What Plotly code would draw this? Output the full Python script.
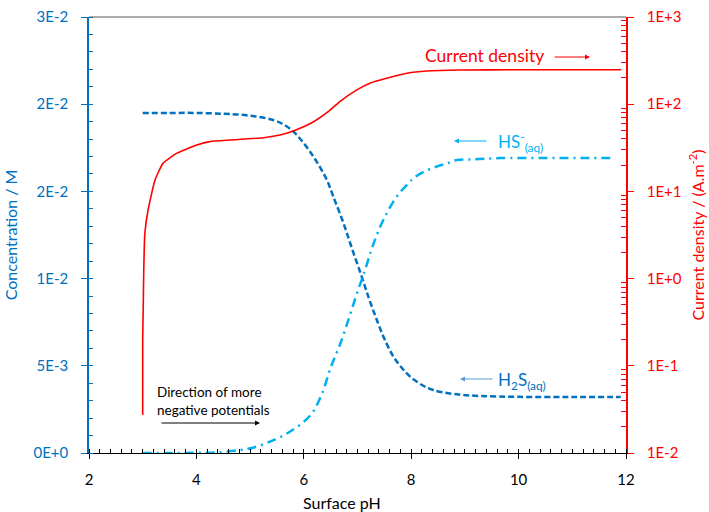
import plotly.graph_objects as go

# ---------------- data ----------------
h2s_ph = [3.0, 3.5, 4.0, 4.5, 4.8, 5.1, 5.4, 5.6, 5.8, 5.95, 6.1, 6.25, 6.43, 6.55, 6.74, 6.9,
          7.08, 7.22, 7.36, 7.5, 7.67, 7.82, 7.98, 8.2, 8.41, 8.8, 9.28, 10.0, 11.0, 11.9]
h2s_conc = [0.01950, 0.01950, 0.01950, 0.01945, 0.01940, 0.01930, 0.01912, 0.01888, 0.01845,
            0.01795, 0.01735, 0.01665, 0.01565, 0.0147, 0.01317, 0.0117, 0.0101, 0.0088,
            0.00763, 0.00655, 0.00552, 0.00490, 0.00438, 0.00390, 0.00361, 0.00338, 0.00327,
            0.00322, 0.00321, 0.00321]

hs_ph = [3.0, 3.5, 4.0, 4.38, 4.81, 5.05, 5.37, 5.74, 6.12, 6.33, 6.5, 6.67, 6.83, 6.98, 7.14,
         7.29, 7.48, 7.73, 7.92, 8.04, 8.25, 8.47, 8.66, 8.85, 9.16, 9.65, 10.5, 11.2, 11.78]
hs_conc = [0.0, 0.0, 0.00001, 0.00003, 0.00017, 0.0003, 0.00065, 0.00122, 0.00215, 0.00333,
           0.0049, 0.00619, 0.00763, 0.00906, 0.01049, 0.01193, 0.01336, 0.0147, 0.01537,
           0.01575, 0.01615, 0.01642, 0.0166, 0.0168, 0.01684, 0.01691, 0.01692, 0.01692, 0.01692]

cd_ph = [3.0, 3.0, 3.01, 3.02, 3.04, 3.10, 3.23, 3.38, 3.63, 4.01, 4.25, 4.63, 5.25, 5.56, 5.68,
         5.93, 6.18, 6.49, 6.67, 6.98, 7.23, 7.54, 7.92, 8.29, 8.91, 10.0, 11.0, 11.91]
cd_val = [0.0273, 0.2, 0.472, 1.26, 3.31, 6.12, 13.5, 21.0, 27.3, 34.0, 37.2, 38.8, 41.3, 44.4,
          46.3, 53, 63, 85.7, 107, 145, 174, 198, 226, 240, 247, 248, 248, 248]

x_ticks = [2, 4, 6, 8, 10, 12]
conc_ticks = [0, 0.005, 0.01, 0.015, 0.02, 0.025]
conc_ticktext = ["0E+0", "5E-3", "1E-2", "2E-2", "2E-2", "3E-2"]
cd_ticks = [0.01, 0.1, 1, 10, 100, 1000]
cd_ticktext = ["1E-2", "1E-1", "1E+0", "1E+1", "1E+2", "1E+3"]
cd_minor = [m * 10 ** e for e in range(-2, 3) for m in range(2, 10)]

BLUE = "#0070C0"
LBLUE = "#00B0F0"
RED = "#FF0000"
FONT = "Lato"

fig = go.Figure()
fig.add_trace(go.Scatter(x=h2s_ph, y=h2s_conc, mode="lines", line=dict(color=BLUE, width=2.5, dash="6px,3px"),
                         line_shape="spline", showlegend=False))
fig.add_trace(go.Scatter(x=hs_ph, y=hs_conc, mode="lines", line=dict(color=LBLUE, width=2.5, dash="9px,5px,2px,5px"),
                         line_shape="spline", showlegend=False))
fig.add_trace(go.Scatter(x=cd_ph, y=cd_val, mode="lines",
                         line=dict(color=RED, width=1.6, shape="spline", smoothing=0.5),
                         yaxis="y2", showlegend=False))

fig.update_layout(
    width=709, height=512,
    margin=dict(l=89, r=83, t=17, b=59),
    paper_bgcolor="white", plot_bgcolor="white",
    font=dict(family=FONT, size=14, color="black"),
    xaxis=dict(range=[2, 12], tickvals=x_ticks, showgrid=False, zeroline=False, automargin=False,
               showline=True, linecolor="black", linewidth=1.2,
               ticks="outside", ticklen=5, tickcolor="black", ticklabelstandoff=8,
               tickfont=dict(size=15, color="black"),
               minor=dict(dtick=0.2, ticks="inside", ticklen=4, tickcolor="black", showgrid=False)),
    yaxis=dict(range=[0, 0.025], tickvals=conc_ticks, ticktext=conc_ticktext, showgrid=False,
               zeroline=False, showline=True, linecolor=BLUE, linewidth=1.5, automargin=False,
               ticks="outside", ticklen=6, tickcolor=BLUE, ticklabelstandoff=10,
               tickfont=dict(size=15, color=BLUE),
               minor=dict(dtick=0.001, ticks="inside", ticklen=4, tickcolor=BLUE, showgrid=False),
               title=dict(text="Concentration / M", font=dict(size=16, color=BLUE), standoff=12)),
    yaxis2=dict(type="log", range=[-2, 3], overlaying="y", side="right", tickvals=cd_ticks,
                ticktext=cd_ticktext, showgrid=False, zeroline=False, showline=True, automargin=False,
                linecolor=RED, linewidth=1.5, ticks="outside", ticklen=6, tickcolor=RED,
                ticklabelstandoff=10, tickfont=dict(size=15, color=RED),
                minor=dict(tickmode="array", tickvals=cd_minor, ticks="inside", ticklen=5,
                           tickcolor=RED, showgrid=False),
                title=dict(text="Current density / (A.m<sup>-2</sup>)", font=dict(size=16, color=RED),
                           standoff=12)),
)

# top border
fig.add_shape(type="line", xref="paper", yref="paper", x0=0, x1=1, y0=1, y1=1,
              line=dict(color="#595959", width=1))


def px_x(p):
    return (p - 89) / 537.0


def px_y(p):
    return (453 - p) / 436.0


# x-axis title
fig.add_annotation(text="Surface pH", xref="paper", yref="paper", x=px_x(342), y=px_y(502),
                   showarrow=False, font=dict(size=16, color="black"), xanchor="center", yanchor="middle")

# labels
fig.add_annotation(text="Current density", xref="paper", yref="paper", x=px_x(423), y=px_y(56),
                   showarrow=False, font=dict(size=17.5, color=RED), xanchor="left", yanchor="middle")
fig.add_annotation(text="", xref="paper", yref="paper", x=px_x(590), y=px_y(57), ax=-37, ay=0,
                   showarrow=True, arrowhead=2, arrowsize=1, arrowwidth=1, arrowcolor=RED)

fig.add_annotation(text="HS<sup>-</sup><sub>(aq)</sub>", xref="paper", yref="paper", x=px_x(496), y=px_y(142),
                   showarrow=False, font=dict(size=17, color=LBLUE), xanchor="left", yanchor="middle")
fig.add_annotation(text="", xref="paper", yref="paper", x=px_x(454), y=px_y(141), ax=34, ay=0,
                   showarrow=True, arrowhead=2, arrowsize=1, arrowwidth=1, arrowcolor=LBLUE)

fig.add_annotation(text="H<sub>2</sub>S<sub>(aq)</sub>", xref="paper", yref="paper", x=px_x(496), y=px_y(381),
                   showarrow=False, font=dict(size=17, color=BLUE), xanchor="left", yanchor="middle")
fig.add_annotation(text="", xref="paper", yref="paper", x=px_x(460), y=px_y(379), ax=34, ay=0,
                   showarrow=True, arrowhead=2, arrowsize=1, arrowwidth=1, arrowcolor="#5B9BD5")

fig.add_annotation(text="Direction of more<br>negative potentials", xref="paper", yref="paper",
                   x=px_x(155), y=px_y(401), showarrow=False, align="left",
                   font=dict(size=13.5, color="black"), xanchor="left", yanchor="middle")
fig.add_annotation(text="", xref="paper", yref="paper", x=px_x(260), y=px_y(423), ax=-100, ay=0,
                   showarrow=True, arrowhead=2, arrowsize=1, arrowwidth=1, arrowcolor="black")

fig.write_html("out.html")
